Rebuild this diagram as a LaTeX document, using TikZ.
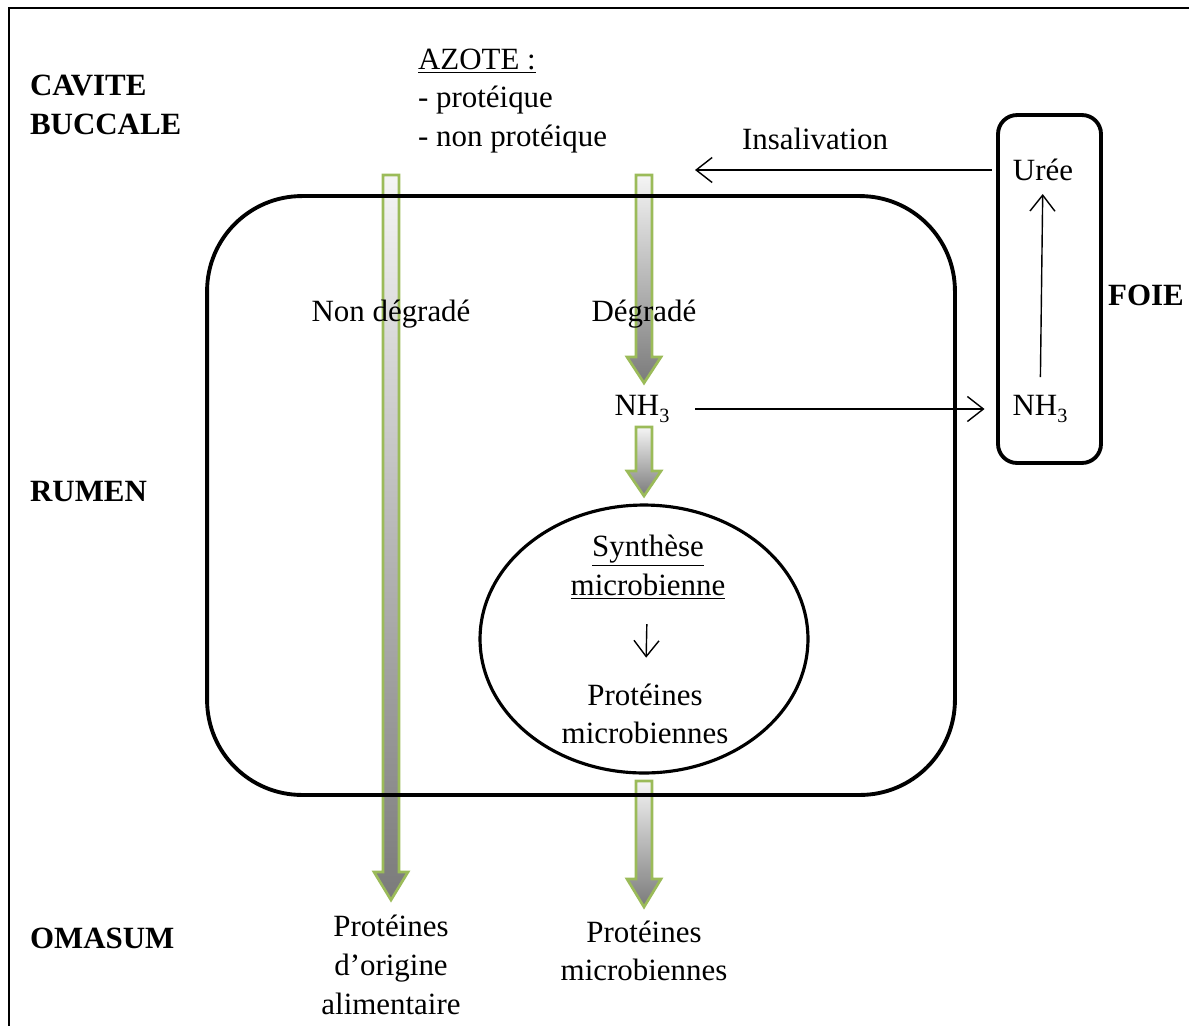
\documentclass[tikz,border=0pt]{standalone}
\usepackage{fontspec}
\setmainfont{Liberation Serif}
\usepackage{tikz}
\usetikzlibrary{calc,shapes,arrows,arrows.meta}

\definecolor{leafgreen}{HTML}{9BBB59}
\newcommand{\ammonia}{NH\raisebox{-0.5ex}{\fontsize{11.5}{12}\selectfont 3}}

\begin{document}
\begin{tikzpicture}[
  x=0.02cm,
  y=-0.02cm,
  font=\fontsize{17.6}{22}\selectfont
]

  \path[use as bounding box] (0,0) rectangle (1189,1025);

  \tikzstyle{txt}=[inner sep=1pt,align=center]
  \tikzstyle{organ}=[inner sep=1pt,align=left,anchor=west,font=\fontsize{17.6}{22.5}\selectfont\bfseries]
  \tikzstyle{box}=[draw,line width=2.2pt,inner sep=0pt]
  \tikzstyle{fatarrow}=[draw=leafgreen,line width=1.5pt,top color=black!4,bottom color=black!52]
  \tikzstyle{pointer}=[draw,line width=0.8pt,-{Straight Barb[length=3.2mm,width=5mm]}]

  % frame
  \draw[line width=1.6pt] (9,1040) -- (9,8) -- (1200,8);

  % organs
  \node[organ] (cavite) at (28,105) {CAVITE\\BUCCALE};
  \node[organ] (rumenlab) at (28,492) {RUMEN};
  \node[organ] (omasum) at (28,938) {OMASUM};
  \node[organ] (foie) at (1106,295) {FOIE};

  % fat arrows
  \coordinate (a1s) at (391,175);
  \coordinate (a1e) at (391,900);
  \coordinate (a2s) at (644,175);
  \coordinate (a2e) at (644,383);
  \coordinate (a3s) at (644,427);
  \coordinate (a3e) at (644,496);
  \coordinate (a4s) at (644,781);
  \coordinate (a4e) at (644,907);
  \foreach \s/\e/\h in {a1s/a1e/28,a2s/a2e/26,a3s/a3e/25,a4s/a4e/28}
    \path[fatarrow] ($(\s)+(-8,0)$) -- ($(\e)+(-8,-\h)$) -- ($(\e)+(-17,-\h)$) -- (\e)
      -- ($(\e)+(17,-\h)$) -- ($(\e)+(8,-\h)$) -- ($(\s)+(8,0)$) -- cycle;

  % boxes
  \node[box,rounded corners=1.9cm,minimum width=14.96cm,minimum height=11.98cm] (rumen) at (581,495.5) {};
  \node[box,rounded corners=0.38cm,minimum width=2.06cm,minimum height=6.96cm] (foiebox) at (1049.5,289) {};
  \node[box,ellipse,line width=1.8pt,minimum width=6.56cm,minimum height=5.36cm] (cell) at (644,639) {};

  % texts
  \node[txt,align=left,anchor=west] (azote) at (416,101) {\underline{AZOTE :}\\- protéique\\- non protéique};
  \node[txt] (insal) at (815,139) {Insalivation};
  \node[txt] (uree) at (1043,170) {Urée};
  \node[txt] (nhfoie) at (1040,409) {\ammonia};
  \node[txt] (nondeg) at (391,314) {Non dégradé};
  \node[txt] (deg) at (644,314) {Dégradé};
  \node[txt] (nhrumen) at (642,409) {\ammonia};
  \node[txt] (synth) at (648,567) {\underline{Synthèse}\\\underline{microbienne}};
  \node[txt] (protmic) at (645,714) {Protéines\\microbiennes};
  \node[txt] (protalim) at (391,965) {Protéines\\d’origine\\alimentaire};
  \node[txt] (protomas) at (644,951) {Protéines\\microbiennes};

  % pointers
  \coordinate (insalend) at (695,170);
  \draw[pointer,shorten <=3.8mm] (uree.west) -- (insalend);
  \draw[pointer,shorten <=4.8mm,shorten >=5.2mm] (nhrumen) -- (nhfoie);
  \draw[pointer,shorten <=3.2mm,shorten >=2.2mm] (nhfoie) -- (uree);
  \draw[pointer,shorten <=4.6mm,shorten >=4.8mm] (synth) -- (protmic);

\end{tikzpicture}
\end{document}
